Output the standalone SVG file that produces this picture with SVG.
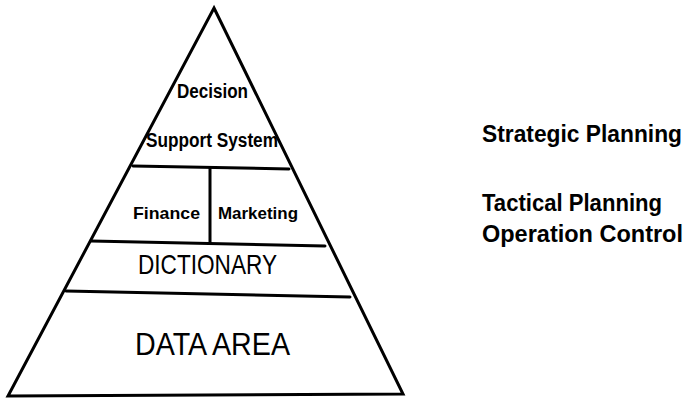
<svg xmlns="http://www.w3.org/2000/svg" width="686" height="401" viewBox="0 0 686 401">
<style>
.ln{stroke:#000;stroke-width:3;fill:none;stroke-linejoin:miter;stroke-linecap:round}
.b{font-family:"Liberation Sans",Arial,sans-serif;font-weight:bold;fill:#000}
.r{font-family:"Liberation Sans",Arial,sans-serif;fill:#000}
</style>
<rect width="686" height="401" fill="#fff"/>
<g id="connectors">
<path class="ln" d="M214,8 L403,394 L8,396 Z"/>
</g>
<g id="dss">
<line class="ln" x1="133" y1="166" x2="289" y2="169"/>
<text class="b" x="177" y="98" font-size="20" textLength="71" lengthAdjust="spacingAndGlyphs">Decision</text>
<text class="b" x="146" y="147" font-size="20" textLength="132" lengthAdjust="spacingAndGlyphs">Support System</text>
</g>
<g id="finance-marketing">
<line class="ln" x1="210" y1="168" x2="210" y2="243"/>
<line class="ln" x1="91" y1="241" x2="325" y2="246"/>
<text class="b" x="133" y="219" font-size="17" textLength="67" lengthAdjust="spacingAndGlyphs">Finance</text>
<text class="b" x="218" y="219" font-size="17" textLength="80" lengthAdjust="spacingAndGlyphs">Marketing</text>
</g>
<g id="dictionary">
<line class="ln" x1="66" y1="291" x2="350" y2="297"/>
<text class="r" x="138" y="274" font-size="28" textLength="139" lengthAdjust="spacingAndGlyphs">DICTIONARY</text>
</g>
<g id="data-area">
<text class="r" x="135" y="355" font-size="32" textLength="155" lengthAdjust="spacingAndGlyphs">DATA AREA</text>
</g>
<g id="labels">
<text class="b" x="482" y="142" font-size="23" textLength="200" lengthAdjust="spacingAndGlyphs">Strategic Planning</text>
<text class="b" x="482" y="211" font-size="23" textLength="180" lengthAdjust="spacingAndGlyphs">Tactical Planning</text>
<text class="b" x="482" y="242" font-size="23" textLength="201" lengthAdjust="spacingAndGlyphs">Operation Control</text>
</g>
</svg>
